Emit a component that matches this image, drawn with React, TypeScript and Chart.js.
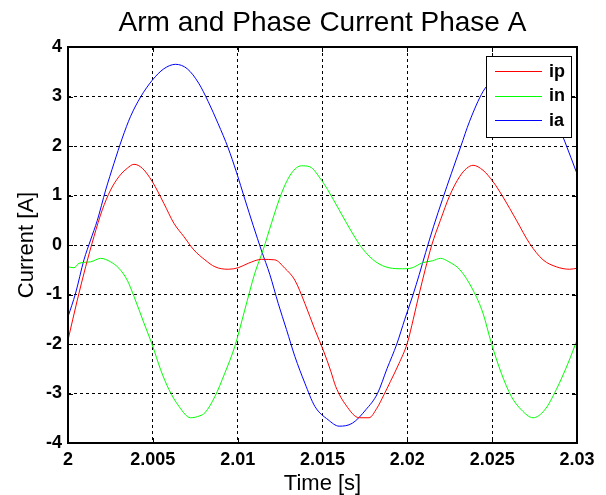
import { useEffect, useRef } from "react";
import { Chart, registerables } from "chart.js";

Chart.register(...registerables);

const FONT = "'Liberation Sans', Arial, Helvetica, sans-serif";

const titleText = "Arm and Phase Current Phase A";
const xAxisLabel = "Time [s]";
const yAxisLabel = "Current [A]";

const seriesNames = ["ip", "in", "ia"];
const seriesColors = ["#ff0000", "#00ff00", "#0000ff"];

const xMin = 2;
const xMax = 2.03;
const xStep = 0.005;
const yMin = -4;
const yMax = 4;
const yStep = 1;

// upper arm current ip
const ipTime = [
  2.0, 2.00055, 2.00104, 2.00153, 2.00202, 2.00251, 2.003, 2.00349, 2.00389, 2.00438,
  2.00497, 2.00565, 2.00624, 2.00683, 2.00742, 2.00807, 2.00866, 2.00944, 2.01003, 2.01062,
  2.01141, 2.01219, 2.01278, 2.01337, 2.01396, 2.01455, 2.01504, 2.01549, 2.01578, 2.01637,
  2.01716, 2.01774, 2.0182, 2.01863, 2.019, 2.0195, 2.02, 2.02035, 2.02069, 2.02105,
  2.02144, 2.02195, 2.0225, 2.02308, 2.0235, 2.02387, 2.02446, 2.02505, 2.02564, 2.02643,
  2.02721, 2.028, 2.02878, 2.02957, 2.03,
];
const ipValues = [
  -1.92, -1.11, -0.44, 0.17, 0.71, 1.11, 1.38, 1.55, 1.63, 1.55,
  1.28, 0.84, 0.44, 0.17, -0.1, -0.3, -0.44, -0.49, -0.46, -0.37,
  -0.29, -0.3, -0.47, -0.71, -1.18, -1.71, -2.12, -2.55, -2.86, -3.23,
  -3.49, -3.49, -3.3, -3.02, -2.76, -2.4, -1.98, -1.5, -1.0, -0.5,
  0.0, 0.5, 1.0, 1.38, 1.55, 1.61, 1.51, 1.28, 0.97, 0.5,
  0.03, -0.3, -0.44, -0.49, -0.47,
];

// lower arm current in
const inTime = [
  2.0, 2.00035, 2.00065, 2.00133, 2.00192, 2.00251, 2.003, 2.00349, 2.00389, 2.00448,
  2.00497, 2.00546, 2.00595, 2.00654, 2.00722, 2.00777, 2.00807, 2.00866, 2.00924, 2.00983,
  2.01042, 2.01101, 2.0115, 2.012, 2.01259, 2.01317, 2.01376, 2.01425, 2.01494, 2.0153,
  2.01598, 2.01676, 2.01735, 2.01814, 2.01892, 2.01971, 2.02029, 2.02088, 2.02147, 2.02196,
  2.02245, 2.0231, 2.02387, 2.02446, 2.02495, 2.02554, 2.02613, 2.02672, 2.02741, 2.0281,
  2.02878, 2.02947, 2.03,
];
const inValues = [
  -0.44, -0.46, -0.37, -0.34, -0.27, -0.34, -0.47, -0.71, -1.04, -1.58,
  -2.02, -2.52, -2.92, -3.26, -3.49, -3.45, -3.39, -3.06, -2.59, -2.05,
  -1.31, -0.57, -0.1, 0.45, 1.05, 1.45, 1.6, 1.58, 1.31, 1.12,
  0.71, 0.24, -0.07, -0.34, -0.46, -0.48, -0.46, -0.36, -0.32, -0.27,
  -0.34, -0.5, -0.91, -1.38, -1.98, -2.59, -3.06, -3.33, -3.49, -3.33,
  -2.92, -2.39, -1.92,
];

// phase current ia
const iaTime = [
  2.0, 2.00045, 2.00094, 2.00133, 2.00173, 2.00222, 2.00271, 2.0032, 2.00369, 2.00428,
  2.00497, 2.00565, 2.00634, 2.00703, 2.0077, 2.00826, 2.00885, 2.00944, 2.00993, 2.01042,
  2.01091, 2.01141, 2.0119, 2.01239, 2.01288, 2.01337, 2.01396, 2.01455, 2.01533, 2.01598,
  2.01676, 2.01755, 2.01824, 2.0188, 2.01938, 2.01985, 2.02034, 2.0207, 2.02108, 2.02155,
  2.02207, 2.0226, 2.02314, 2.02367, 2.02446, 2.025, 2.02565, 2.02634, 2.02703, 2.0277,
  2.02826, 2.02885, 2.02927, 2.03,
];
const iaValues = [
  -1.45, -0.97, -0.3, 0.1, 0.5, 1.11, 1.65, 2.16, 2.6, 2.99,
  3.33, 3.56, 3.65, 3.56, 3.27, 2.9, 2.45, 1.96, 1.47, 0.93,
  0.4, -0.12, -0.6, -1.18, -1.71, -2.25, -2.79, -3.26, -3.53, -3.66,
  -3.6, -3.33, -3.0, -2.5, -2.0, -1.5, -1.0, -0.6, -0.15, 0.38,
  0.92, 1.45, 1.98, 2.5, 3.1, 3.33, 3.56, 3.65, 3.56, 3.27,
  2.9, 2.45, 2.1, 1.44,
];

const seriesTimes = [ipTime, inTime, iaTime];
const seriesValues = [ipValues, inValues, iaValues];

const formatTick = (v: number) => String(parseFloat(v.toFixed(3)));

// axes box, inward tick marks, titles and the boxed legend
const figureDecor = {
  id: "figureDecor",
  afterDraw(chart: any) {
    const { ctx, chartArea: a, scales } = chart;
    const xs = scales.x;
    const ys = scales.y;
    ctx.save();

    ctx.strokeStyle = "#000";
    ctx.lineWidth = 1;
    ctx.setLineDash([]);
    const tickLen = 5;
    ctx.beginPath();
    xs.ticks.forEach((_: any, i: number) => {
      const x = Math.round(xs.getPixelForTick(i)) + 0.5;
      ctx.moveTo(x, a.bottom);
      ctx.lineTo(x, a.bottom - tickLen);
      ctx.moveTo(x, a.top);
      ctx.lineTo(x, a.top + tickLen);
    });
    ys.ticks.forEach((_: any, i: number) => {
      const y = Math.round(ys.getPixelForTick(i)) + 0.5;
      ctx.moveTo(a.left, y);
      ctx.lineTo(a.left + tickLen, y);
      ctx.moveTo(a.right, y);
      ctx.lineTo(a.right - tickLen, y);
    });
    ctx.stroke();

    ctx.lineWidth = 2;
    ctx.strokeRect(a.left, a.top, a.right - a.left, a.bottom - a.top);

    ctx.fillStyle = "#000";
    ctx.textAlign = "center";
    ctx.textBaseline = "alphabetic";
    ctx.font = `28px ${FONT}`;
    ctx.fillText(titleText, (a.left + a.right) / 2, 31);

    ctx.font = `22px ${FONT}`;
    ctx.fillText(xAxisLabel, (a.left + a.right) / 2, 490);

    ctx.save();
    ctx.translate(33, (a.top + a.bottom) / 2);
    ctx.rotate(-Math.PI / 2);
    ctx.fillText(yAxisLabel, 0, 0);
    ctx.restore();

    // legend box
    const lx = 486;
    const ly = 56;
    const lw = 85;
    const lh = 81;
    ctx.fillStyle = "#fff";
    ctx.fillRect(lx, ly, lw, lh);
    ctx.strokeStyle = "#000";
    ctx.lineWidth = 1;
    ctx.strokeRect(lx + 0.5, ly + 0.5, lw, lh);
    ctx.font = `bold 18px ${FONT}`;
    ctx.textAlign = "left";
    ctx.textBaseline = "middle";
    chart.data.datasets.forEach((ds: any, i: number) => {
      const y = ly + 15 + i * 24.5;
      ctx.strokeStyle = ds.borderColor;
      ctx.beginPath();
      ctx.moveTo(495, Math.round(y) + 0.5);
      ctx.lineTo(542, Math.round(y) + 0.5);
      ctx.stroke();
      ctx.fillStyle = "#000";
      ctx.fillText(ds.label, 549, y + 1);
    });

    ctx.restore();
  },
};

export default function App() {
  const canvasRef = useRef<HTMLCanvasElement | null>(null);

  useEffect(() => {
    const canvas = canvasRef.current;
    if (!canvas) return;

    const datasets = seriesNames.map((name, s) => ({
      label: name,
      data: seriesTimes[s].map((t, i) => ({ x: t, y: seriesValues[s][i] })),
      borderColor: seriesColors[s],
      backgroundColor: seriesColors[s],
      borderWidth: 1,
      pointRadius: 0,
      cubicInterpolationMode: "monotone" as const,
      fill: false,
    }));

    const tickFont = { family: FONT, size: 18, weight: "bold" as const };

    const chart = new Chart(canvas, {
      type: "line",
      data: { datasets },
      options: {
        responsive: false,
        animation: false,
        events: [],
        layout: { padding: { top: 47, right: 29, left: 0, bottom: 0 } },
        plugins: {
          legend: { display: false },
          title: { display: false },
          tooltip: { enabled: false },
        },
        scales: {
          x: {
            type: "linear",
            min: xMin,
            max: xMax,
            afterFit: (scale: any) => {
              scale.height = 52;
            },
            ticks: {
              stepSize: xStep,
              autoSkip: false,
              maxRotation: 0,
              color: "#000",
              font: tickFont,
              padding: 6,
              callback: (v: any) => formatTick(Number(v)),
            },
            grid: { color: "#000", lineWidth: 1, drawTicks: false },
            border: { display: false, dash: [3, 3] },
          },
          y: {
            type: "linear",
            min: yMin,
            max: yMax,
            afterFit: (scale: any) => {
              scale.width = 68;
            },
            ticks: {
              stepSize: yStep,
              color: "#000",
              font: tickFont,
              padding: 6,
              callback: (v: any) => formatTick(Number(v)),
            },
            grid: { color: "#000", lineWidth: 1, drawTicks: false },
            border: { display: false, dash: [3, 3] },
          },
        },
      },
      plugins: [figureDecor],
    });

    return () => chart.destroy();
  }, []);

  return (
    <div style={{ position: "fixed", left: 0, top: 0, width: 606, height: 495, background: "#fff" }}>
      <canvas ref={canvasRef} width={606} height={495} style={{ display: "block" }} />
    </div>
  );
}
